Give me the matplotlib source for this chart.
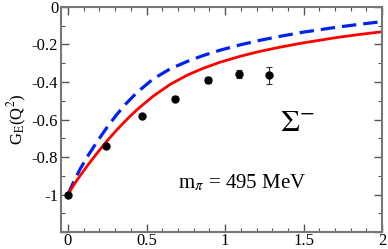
import matplotlib
matplotlib.use("Agg")
import matplotlib.pyplot as plt
from matplotlib.ticker import MultipleLocator, FuncFormatter

plt.rcParams['font.family'] = ['Liberation Serif', 'DejaVu Serif']
plt.rcParams['mathtext.fontset'] = 'stix'
plt.rcParams['axes.unicode_minus'] = False

# lattice points
q2_pts = [0.0, 0.244, 0.469, 0.68, 0.894, 1.09, 1.28]
ge_pts = [-1.0, -0.743, -0.583, -0.488, -0.39, -0.355, -0.364]
ge_err = [0.0, 0.0, 0.0, 0.012, 0.015, 0.021, 0.045]

# red solid curve
q2_red = [0.0, 0.03, 0.06, 0.12, 0.19, 0.25, 0.31, 0.38, 0.44, 0.54, 0.65,
          0.76, 0.86, 0.97, 1.10, 1.22, 1.34, 1.50, 1.71, 1.85, 2.0]
ge_red = [-1.0, -0.958, -0.92, -0.85, -0.774, -0.713, -0.656, -0.595, -0.547,
          -0.477, -0.413, -0.363, -0.327, -0.294, -0.262, -0.237, -0.216,
          -0.191, -0.163, -0.147, -0.132]

# blue dashed curve
q2_blue = [0.0, 0.02, 0.04, 0.08, 0.12, 0.19, 0.25, 0.31, 0.37, 0.44, 0.54,
           0.65, 0.76, 0.86, 0.97, 1.10, 1.22, 1.34, 1.50, 1.71, 1.85, 2.0]
ge_blue = [-1.0, -0.962, -0.925, -0.86, -0.802, -0.712, -0.64, -0.574, -0.515,
           -0.455, -0.385, -0.33, -0.29, -0.259, -0.23, -0.201, -0.178, -0.158,
           -0.134, -0.108, -0.093, -0.078]

fig = plt.figure(figsize=(3.88, 2.49), dpi=100)
ax = fig.add_axes([0.157, 0.068, 0.828, 0.904])

ax.plot(q2_blue, ge_blue, color='#0022ee', lw=2.3, ls=(0, (4.5, 2.2)))
ax.plot(q2_red, ge_red, color='red', lw=2.0)
ax.errorbar(q2_pts, ge_pts, yerr=ge_err, fmt='o', color='black', ms=5,
            ecolor='#333333', elinewidth=0.8, capsize=2.5, capthick=0.8)

ax.set_xlim(-0.045, 2.0)
ax.set_ylim(-1.2, 0.0)
ax.xaxis.set_major_locator(MultipleLocator(0.5))
ax.xaxis.set_minor_locator(MultipleLocator(0.1))
ax.yaxis.set_major_locator(MultipleLocator(0.2))
ax.yaxis.set_minor_locator(MultipleLocator(0.1))
ax.xaxis.set_major_formatter(FuncFormatter(lambda v, p: '%g' % round(v, 3)))
ax.yaxis.set_major_formatter(
    FuncFormatter(lambda v, p: '' if v < -1.1 else '%g' % round(v, 3)))
ax.tick_params(which='both', direction='in', top=True, right=True,
               labelsize=12, color='#555555')
ax.tick_params(axis='x', pad=1)
ax.tick_params(axis='y', pad=2)
ax.tick_params(which='major', length=6, width=1)
ax.tick_params(which='minor', length=3, width=0.8)
for s in ax.spines.values():
    s.set_color('#777777')
    s.set_linewidth(1.5)

ax.set_ylabel(r'G$_{\rm E}$(Q$^2$)', fontsize=12, labelpad=2)
ax.text(1.46, -0.62, r'$\Sigma^{-}$', fontsize=22, ha='center', va='center')
ax.text(1.11, -0.94, r'm$_{\pi}$ = 495 MeV', fontsize=15, ha='center', va='center')

fig.savefig('out.png', dpi=100)
